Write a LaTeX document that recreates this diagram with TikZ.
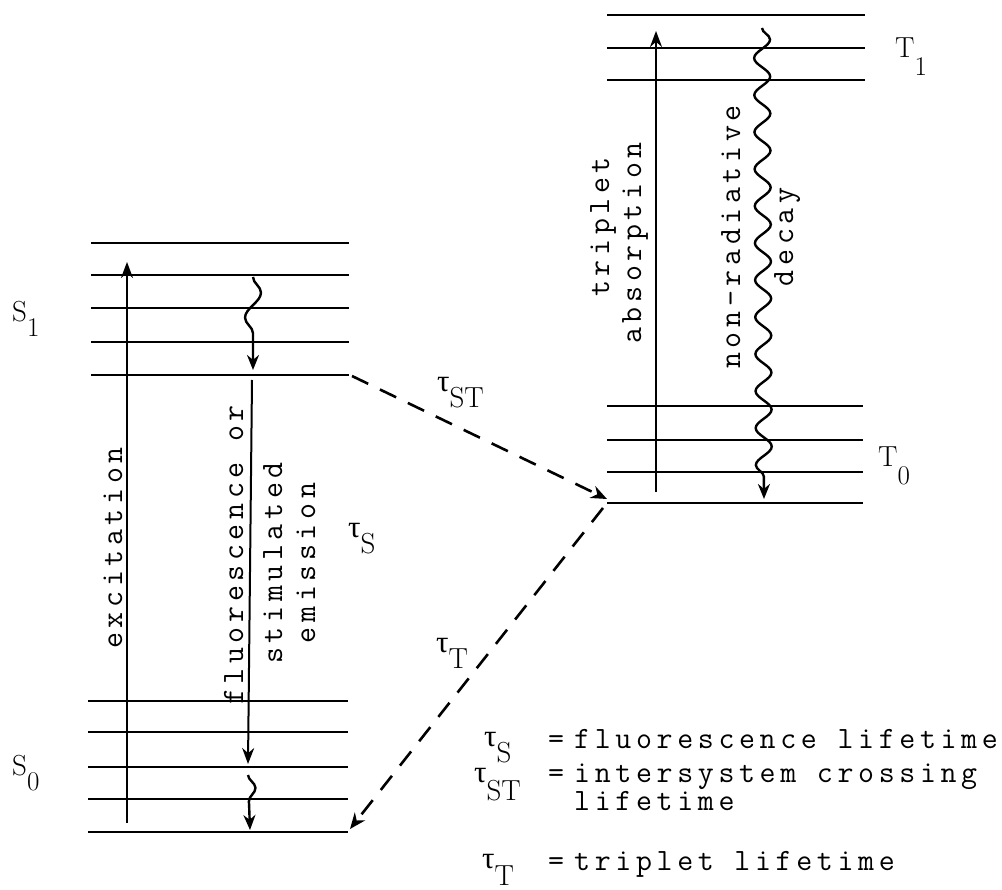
\documentclass[tikz,border=0pt]{standalone}
\usepackage{fontspec}
\usetikzlibrary{decorations.pathmorphing,arrows.meta}
\newfontfamily\twfont{Latin Modern Mono}[LetterSpace=15]
\newfontfamily\grkfont{Liberation Serif}
\newcommand\twsz{\fontsize{31}{35}\selectfont\twfont}
\newcommand\lvsz{\fontsize{29}{29}\selectfont}
\newcommand\sublab[3]{\lvsz #1\raisebox{-#3}{\fontsize{27}{27}\selectfont #2}}
\newcommand\taulab[2]{\fontsize{31}{31}\selectfont{\grkfont τ}\raisebox{-#2}{\lvsz #1}}
\tikzset{
  lev/.style={line width=2.6pt},
  arr/.style={line width=2pt, -{Stealth[length=16pt,width=12pt]}},
  wavy/.style={line width=2.4pt, decorate, -{Stealth[length=15pt,width=12pt]}},
  dsh/.style={line width=2.6pt, dash pattern=on 18pt off 13pt, -{Stealth[length=16pt,width=13pt]}},
  tw/.style={font=\twsz, inner sep=0pt},
  vtw/.style={font=\twsz, inner sep=0pt, rotate=90, anchor=base},
  lab/.style={inner sep=0pt, anchor=base west},
}
\begin{document}
\begin{tikzpicture}[x=1pt,y=-1pt]
\useasboundingbox (0,0) rectangle (1002,890);
% S1 levels
\foreach \yy in {243,275,308,342,375}
  \draw[lev] (91,\yy) -- (349,\yy);
% S0 levels
\foreach \yy in {701,732,767,799,832}
  \draw[lev] (88,\yy) -- (348,\yy);
% T1 levels
\foreach \yy in {15,48,80}
  \draw[lev] (607,\yy) -- (865,\yy);
% T0 levels
\foreach \yy in {406,440,472,503}
  \draw[lev] (607,\yy) -- (863,\yy);

% coordinates of connector ends
\coordinate (excA) at (127,823);
\coordinate (excB) at (127,262);
\coordinate (fluA) at (252,380);
\coordinate (fluB) at (248,764);
\coordinate (w1A) at (253,277);
\coordinate (w1B) at (253,370);
\coordinate (w2A) at (248,775);
\coordinate (w2B) at (250,830);
\coordinate (tabA) at (656,492);
\coordinate (tabB) at (656,31);
\coordinate (nrA) at (762,28);
\coordinate (nrB) at (764,499);
\coordinate (stA) at (352,376);
\coordinate (stB) at (607,499);
\coordinate (ttA) at (603,508);
\coordinate (ttB) at (350,829);

\draw[arr] (excA) -- (excB);
\draw[arr] (fluA) -- (fluB);
\draw[arr] (tabA) -- (tabB);
\draw[wavy, decoration={snake, amplitude=8pt, segment length=50pt, post length=12pt}] (w1A) -- (w1B);
\draw[wavy, decoration={snake, amplitude=7pt, segment length=42pt, post length=12pt}] (w2A) -- (w2B);
\draw[wavy, decoration={snake, amplitude=8pt, segment length=37pt, post length=14pt}] (nrA) -- (nrB);
\draw[dsh] (stA) -- (stB);
\draw[dsh] (ttA) -- (ttB);

% rotated labels
\node[vtw] (exc) at (122,548) {excitation};
\node[vtw] (flu1) at (243,555) {fluorescence or};
\node[vtw] (flu2) at (282,563) {stimulated};
\node[vtw] (flu3) at (315,563) {emission};
\node[vtw] (trip1) at (609,227) {triplet};
\node[vtw] (trip2) at (641,243) {absorption};
\node[vtw] (nonr1) at (740,237) {non-radiative};
\node[vtw] (nonr2) at (793,237) {decay};

% level labels
\node[lab] (s1) at (12,322) {\sublab{S}{1}{15pt}};
\node[lab] (s0) at (12,775) {\sublab{S}{0}{15pt}};
\node[lab] (t1) at (895,58) {\sublab{T}{1}{18pt}};
\node[lab] (t0) at (878,467) {\sublab{T}{0}{18pt}};

% lifetime labels
\node[lab] (tst) at (437,392) {\taulab{ST}{16pt}};
\node[lab] (ts) at (348,537) {\taulab{S}{16pt}};
\node[lab] (tt) at (436,652) {\taulab{T}{16pt}};

% legend
\node[lab] (k1) at (484,746) {\taulab{S}{16pt}};
\node[tw, anchor=base] (e1) at (556,748) {=};
\node[tw, anchor=base west] (d1) at (574,748) {fluorescence lifetime};
\node[lab] (k2) at (474,782) {\taulab{ST}{18pt}};
\node[tw, anchor=base] (e2) at (556,782) {=};
\node[tw, anchor=base west] (d2) at (574,782) {intersystem crossing};
\node[tw, anchor=base west] (d2b) at (574,810) {lifetime};
\node[lab] (k3) at (482,868) {\taulab{T}{17pt}};
\node[tw, anchor=base] (e3) at (556,870) {=};
\node[tw, anchor=base west] (d3) at (574,870) {triplet lifetime};
\end{tikzpicture}
\end{document}
